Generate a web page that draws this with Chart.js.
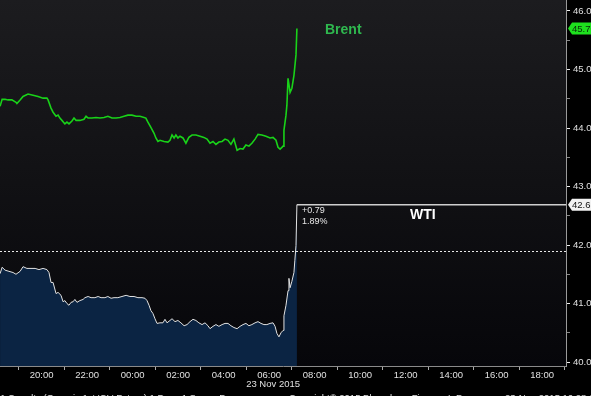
<!DOCTYPE html>
<html><head><meta charset="utf-8">
<script src="https://cdn.jsdelivr.net/npm/chart.js@4"></script>
<style>html,body{margin:0;padding:0;background:#000;}canvas{display:block;}</style>
</head><body>
<canvas id="c" width="591" height="396"></canvas>
<script>
// Hours since 22 Nov 2015 00:00 (24 = 00:00 on 23 Nov)
const brentTimes = [18.17,18.26,18.39,18.52,18.69,18.87,18.91,19.05,19.18,19.40,19.62,19.84,20.06,20.23,20.28,20.41,20.50,20.63,20.72,20.80,20.89,21.02,21.11,21.20,21.33,21.42,21.51,21.68,21.86,21.95,22.04,22.21,22.39,22.56,22.74,22.91,23.09,23.27,23.44,23.62,23.79,23.97,24.15,24.32,24.50,24.58,24.67,24.80,24.94,25.02,25.11,25.20,25.38,25.55,25.64,25.73,25.82,25.90,25.99,26.08,26.21,26.34,26.47,26.61,26.78,26.96,27.13,27.27,27.40,27.53,27.66,27.79,27.93,28.06,28.19,28.32,28.45,28.59,28.72,28.85,28.98,29.11,29.24,29.38,29.51,29.68,29.86,30.04,30.17,30.30,30.39,30.48,30.56,30.61,30.65,30.74,30.78,30.83,30.92,31.00,31.09,31.18,31.22];
const brentValues = [44.37,44.49,44.49,44.48,44.48,44.44,44.42,44.48,44.54,44.58,44.56,44.54,44.51,44.51,44.48,44.34,44.27,44.20,44.22,44.17,44.13,44.07,44.10,44.07,44.12,44.17,44.13,44.13,44.15,44.20,44.17,44.17,44.18,44.17,44.18,44.20,44.17,44.17,44.18,44.20,44.22,44.22,44.20,44.20,44.18,44.17,44.10,44.01,43.91,43.83,43.77,43.79,43.77,43.76,43.79,43.88,43.83,43.88,43.83,43.86,43.83,43.74,43.84,43.88,43.88,43.86,43.84,43.81,43.74,43.77,43.72,43.76,43.77,43.81,43.79,43.72,43.81,43.62,43.65,43.64,43.71,43.69,43.74,43.81,43.89,43.88,43.86,43.83,43.84,43.79,43.67,43.64,43.67,43.69,43.96,44.22,44.39,44.85,44.61,44.68,44.90,45.25,45.70];
const wtiTimes = [18.17,18.26,18.39,18.56,18.74,18.87,19.05,19.18,19.35,19.53,19.71,19.88,20.06,20.23,20.32,20.41,20.50,20.63,20.72,20.85,20.94,21.02,21.11,21.20,21.29,21.38,21.46,21.55,21.68,21.82,21.90,22.04,22.17,22.34,22.48,22.61,22.78,22.91,23.05,23.18,23.35,23.53,23.71,23.88,24.06,24.23,24.41,24.54,24.63,24.72,24.80,24.89,24.98,25.07,25.20,25.33,25.42,25.51,25.64,25.73,25.86,25.99,26.12,26.26,26.39,26.52,26.65,26.78,26.91,27.05,27.18,27.31,27.40,27.53,27.66,27.79,27.93,28.06,28.19,28.32,28.45,28.59,28.72,28.85,28.98,29.11,29.24,29.38,29.51,29.64,29.77,29.90,30.04,30.17,30.26,30.34,30.43,30.52,30.61,30.65,30.74,30.83,30.87,30.92,31.00,31.09,31.13,31.18,31.22];
const wtiValues = [41.51,41.62,41.57,41.55,41.53,41.50,41.55,41.63,41.60,41.60,41.60,41.58,41.60,41.58,41.53,41.36,41.36,41.17,41.19,41.14,41.03,41.05,41.00,40.97,41.02,41.03,41.07,41.02,41.05,41.07,41.10,41.12,41.10,41.10,41.12,41.10,41.10,41.12,41.09,41.10,41.10,41.12,41.14,41.12,41.12,41.10,41.10,41.09,41.05,40.97,40.88,40.83,40.74,40.66,40.67,40.67,40.73,40.67,40.71,40.74,40.69,40.71,40.67,40.62,40.64,40.69,40.73,40.71,40.67,40.64,40.67,40.62,40.57,40.61,40.64,40.61,40.64,40.66,40.66,40.62,40.59,40.57,40.61,40.64,40.66,40.62,40.64,40.67,40.69,40.66,40.64,40.64,40.66,40.67,40.61,40.49,40.43,40.50,40.54,40.79,40.97,41.22,41.43,41.27,41.38,41.53,41.74,41.99,42.69];
const wtiPrevClose = 41.90;
const wtiChange = "+0.79";
const wtiChangePct = "1.89%";
const hourTicks = [19,20,21,22,23,24,25,26,27,28,29,30,31,32,33,34,35,36,37,38,39,40,41,42,43];
const priceTicks = [40,40.5,41,41.5,42,42.5,43,43.5,44,44.5,45,45.5,46];
const dateLabel = "23 Nov 2015";
const footerLeft = "CL1 Comdty (Generic 1st 'CL' Future) 1 Days 1 Seven Days";
const footerMid = "Copyright\u00A9 2015 Bloomberg Finance L.P.";
const footerRight = "23-Nov-2015 16:28:13";

const FONT = "'Liberation Sans', Arial, sans-serif";

const decor = {
  id: 'decor',
  beforeDraw(chart) {
    const c = chart.ctx, a = chart.chartArea;
    c.save();
    c.fillStyle = '#000';
    c.fillRect(0, 0, chart.width, chart.height);
    const g = c.createLinearGradient(0, a.top, 0, a.bottom);
    g.addColorStop(0, '#1c1c1f');
    g.addColorStop(0.5, '#111114');
    g.addColorStop(1, '#06060a');
    c.fillStyle = g;
    c.fillRect(a.left, a.top, a.right - a.left, a.bottom - a.top);
    c.restore();
  },
  afterDatasetsDraw(chart) {
    const c = chart.ctx, a = chart.chartArea;
    const xs = chart.scales.x, ys = chart.scales.y;
    c.save();
    const yPc = Math.round(ys.getPixelForValue(wtiPrevClose)) + 0.5;
    c.strokeStyle = '#e8e8e8';
    c.lineWidth = 1;
    c.setLineDash([2, 2]);
    c.beginPath(); c.moveTo(a.left, yPc); c.lineTo(a.right, yPc); c.stroke();
    c.setLineDash([]);
    const lastW = wtiValues[wtiValues.length - 1];
    const xL = xs.getPixelForValue(wtiTimes[wtiTimes.length - 1]);
    const yW = ys.getPixelForValue(lastW);
    c.strokeStyle = '#cfcfcf';
    c.lineWidth = 1.5;
    c.beginPath(); c.moveTo(xL, yW); c.lineTo(a.right, yW); c.stroke();
    c.fillStyle = '#e6e6e6';
    c.font = '9px ' + FONT;
    c.textBaseline = 'middle';
    c.textAlign = 'left';
    c.fillText(wtiChange, xL + 5, yW + 6);
    c.fillText(wtiChangePct, xL + 5, yW + 17);
    c.font = 'bold 14px ' + FONT;
    c.fillStyle = '#ffffff';
    c.fillText('WTI', 410, yW + 10);
    c.fillStyle = '#2fb84f';
    c.fillText('Brent', 325, 30);
    c.restore();
  },
  afterDraw(chart) {
    const c = chart.ctx, a = chart.chartArea;
    const ys = chart.scales.y, xs = chart.scales.x;
    c.save();
    function box(val, bg, fg) {
      const y = ys.getPixelForValue(val);
      const x0 = a.right + 2, h = 12;
      c.fillStyle = bg;
      c.beginPath();
      c.moveTo(x0, y);
      c.lineTo(x0 + 4, y - h / 2);
      c.lineTo(chart.width + 2, y - h / 2);
      c.lineTo(chart.width + 2, y + h / 2);
      c.lineTo(x0 + 4, y + h / 2);
      c.closePath();
      c.fill();
      c.fillStyle = fg;
      c.font = '9.5px ' + FONT;
      c.textBaseline = 'middle';
      c.textAlign = 'left';
      c.fillText(val.toFixed(2), a.right + 6, y + 0.5);
    }
    box(brentValues[brentValues.length - 1], '#1ee01e', '#0a2a0a');
    box(wtiValues[wtiValues.length - 1], '#f2f2f2', '#111');
    c.fillStyle = '#e0e0e0';
    c.font = '9.5px ' + FONT;
    c.textBaseline = 'middle';
    c.textAlign = 'left';
    c.fillText(dateLabel, xs.getPixelForValue(30) - 23, 384);
    c.fillText(footerLeft, -12, 398);
    c.fillText(footerMid, 289, 398);
    c.fillText(footerRight, 505, 398);
    c.restore();
  }
};

new Chart(document.getElementById('c'), {
  type: 'line',
  data: {
    datasets: [
      {
        label: 'WTI',
        data: wtiTimes.map((t, i) => ({ x: t, y: wtiValues[i] })),
        borderColor: '#e2e2e2', borderWidth: 1, pointRadius: 0,
        fill: 'start', backgroundColor: '#0b2443', tension: 0
      },
      {
        label: 'Brent',
        data: brentTimes.map((t, i) => ({ x: t, y: brentValues[i] })),
        borderColor: '#19d219', borderWidth: 1.6, pointRadius: 0,
        fill: false, tension: 0
      }
    ]
  },
  options: {
    responsive: false, animation: false,
    layout: { padding: 0 },
    plugins: { legend: { display: false }, tooltip: { enabled: false } },
    scales: {
      x: {
        type: 'linear', min: 18.167, max: 43.05,
        afterBuildTicks: s => { s.ticks = hourTicks.map(v => ({ value: v })); },
        afterFit: s => { s.height = 30; s.paddingLeft = 0; s.paddingRight = 0; },
        ticks: {
          autoSkip: false, maxRotation: 0, padding: 0,
          color: '#e0e0e0', font: { family: FONT, size: 9.5 },
          callback: v => (v % 2 === 0) ? String(v % 24).padStart(2, '0') + ':00' : ''
        },
        grid: {
          drawOnChartArea: false, tickLength: 4,
          tickColor: ctx => (ctx.tick && ctx.tick.value % 2 === 1) ? '#aaaaaa' : 'rgba(0,0,0,0)'
        },
        border: { color: '#8a8a8a', width: 1 }
      },
      y: {
        position: 'right', min: 39.932, max: 46.188,
        afterBuildTicks: s => { s.ticks = priceTicks.map(v => ({ value: v })); },
        afterFit: s => { s.width = 25; s.paddingTop = 0; s.paddingBottom = 0; },
        ticks: {
          padding: 3, color: '#e0e0e0', font: { family: FONT, size: 9.5 },
          callback: v => Number.isInteger(v) ? v.toFixed(2) : ''
        },
        grid: {
          drawOnChartArea: false, tickLength: 4,
          tickColor: ctx => (ctx.tick && Number.isInteger(ctx.tick.value)) ? '#f0f0f0' : '#888888'
        },
        border: { color: '#9a9a9a', width: 1 }
      }
    }
  },
  plugins: [decor]
});
</script>
</body></html>
